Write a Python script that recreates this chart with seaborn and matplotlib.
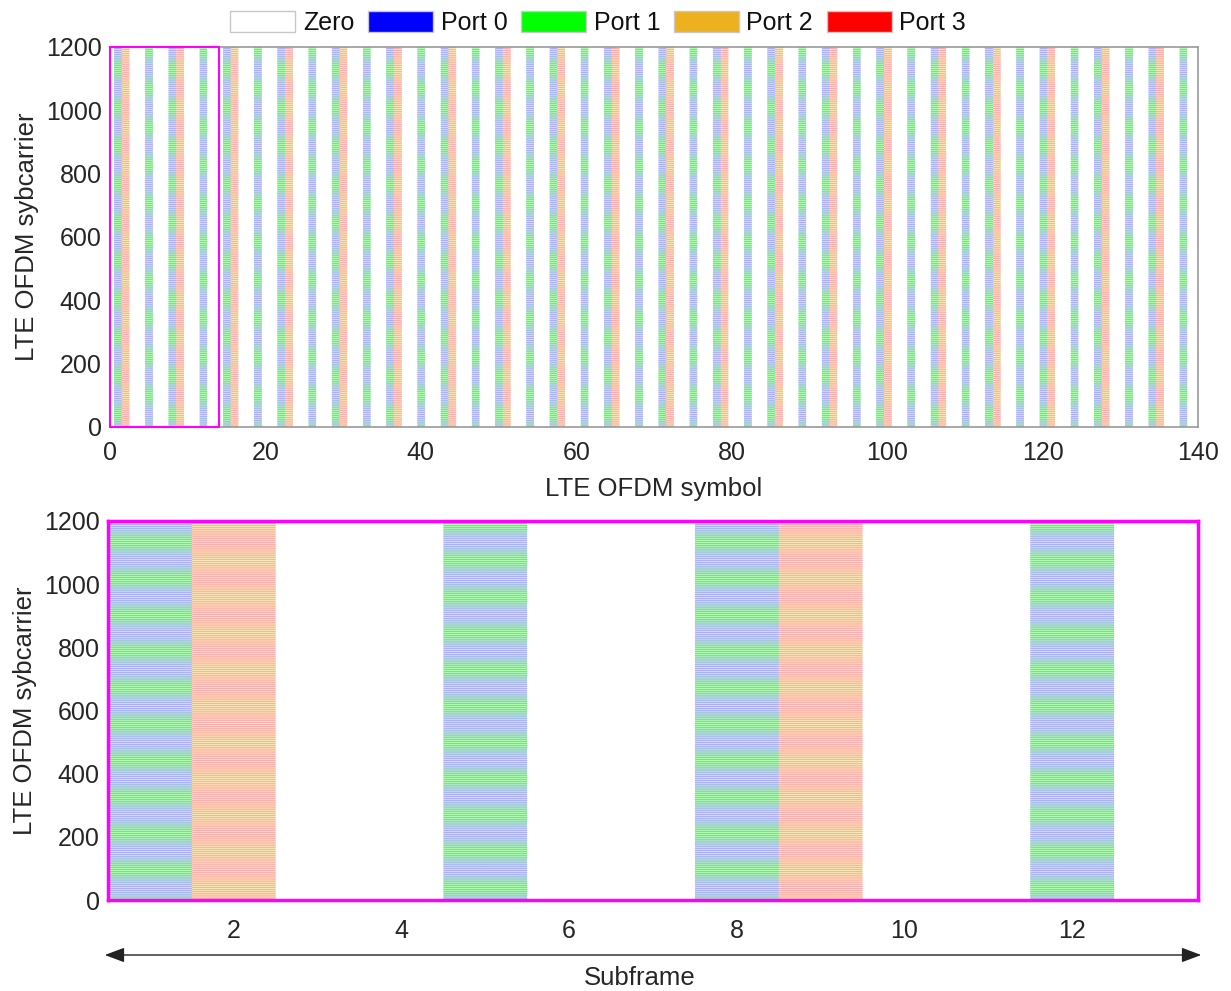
import numpy as np
import matplotlib
matplotlib.use("Agg")
import matplotlib.pyplot as plt
from matplotlib.patches import Patch, Rectangle, FancyArrowPatch
from matplotlib.colors import to_rgb
import seaborn as sns

# Resource grid dimensions (one LTE frame, 20 MHz)
n_subcarriers = 1200
n_symbols = 140
symbols_per_subframe = 14
rs_spacing = 6

# Legend categories and colours
port_names = ["Zero", "Port 0", "Port 1", "Port 2", "Port 3"]
port_colors = ["#FFFFFF", "#0000FF", "#00FF00", "#EDB120", "#FF0000"]

# Cell-specific reference signal positions inside one subframe
rs_symbol = [0, 4, 7, 11, 0, 4, 7, 11, 1, 8, 1, 8]
rs_port = [1, 1, 1, 1, 2, 2, 2, 2, 3, 3, 4, 4]
rs_offset = [0, 3, 0, 3, 3, 0, 3, 0, 0, 3, 3, 0]

# Tick labels
top_xticks = [0, 20, 40, 60, 80, 100, 120, 140]
bottom_xticks = [2, 4, 6, 8, 10, 12]
yticks = [0, 200, 400, 600, 800, 1000, 1200]

# Build the grid of port indices
grid = np.zeros((n_subcarriers, n_symbols), dtype=int)
for sf in range(n_symbols // symbols_per_subframe):
    for sym, port, off in zip(rs_symbol, rs_port, rs_offset):
        grid[off::rs_spacing, sf * symbols_per_subframe + sym] = port

palette = (np.array([to_rgb(c) for c in port_colors]) * 255).astype(np.uint8)


def as_rgb(g, hrep):
    # widen each OFDM symbol so the filter only averages along subcarriers
    return np.repeat(palette[g], hrep, axis=1)


sns.set_theme(style="white")
plt.rcParams["font.family"] = ["Liberation Sans", "DejaVu Sans"]

fig = plt.figure(figsize=(12.31, 9.91), dpi=100)
ax1 = fig.add_axes([110 / 1231, 1 - 427 / 991, 1088 / 1231, 380 / 991])
ax2 = fig.add_axes([108 / 1231, 1 - 900 / 991, 1090 / 1231, 379 / 991])

text_col = "#262626"
fs_tick = 18
fs_label = 18.5

# Full frame
ax1.imshow(as_rgb(grid, 8), origin="lower",
           extent=[0.5, n_symbols + 0.5, 0.5, n_subcarriers + 0.5],
           aspect="auto", interpolation="antialiased")
# First subframe
ax2.imshow(as_rgb(grid[:, :symbols_per_subframe], 100), origin="lower",
           extent=[0.5, symbols_per_subframe + 0.5, 0.5, n_subcarriers + 0.5],
           aspect="auto", interpolation="antialiased")

for ax in (ax1, ax2):
    ax.set_yticks(yticks)
    ax.set_ylim(0, n_subcarriers)
    ax.set_ylabel("LTE OFDM sybcarrier", fontsize=fs_label, color=text_col,
                  labelpad=5)
    ax.tick_params(axis="both", direction="in", length=4, width=0.6,
                   colors="#888888", labelcolor=text_col, labelsize=fs_tick,
                   pad=6)

ax1.set_xlim(0, n_symbols)
ax1.set_xticks(top_xticks)
ax1.tick_params(axis="x", pad=10)
ax1.set_xlabel("LTE OFDM symbol", fontsize=fs_label, color=text_col,
               labelpad=9)
for sp in ax1.spines.values():
    sp.set_color("#9a9a9a")
    sp.set_linewidth(1.2)
ax1.add_patch(Rectangle((0, 0), symbols_per_subframe, n_subcarriers,
                        fill=False, edgecolor="#FF00FF", linewidth=1.5,
                        clip_on=False, zorder=5))

ax2.set_xlim(0.5, 13.5)
ax2.set_xticks(bottom_xticks)
ax2.tick_params(axis="x", length=0, pad=14)
ax2.tick_params(axis="y", length=0)
for sp in ax2.spines.values():
    sp.set_color("#FF00FF")
    sp.set_linewidth(2.5)

# Legend
handles = [Patch(facecolor=c, edgecolor="#c8c8c8", linewidth=1.0)
           for c in port_colors]
fig.legend(handles, port_names, loc="upper center",
           bbox_to_anchor=(0.486, 1.012), ncol=5, frameon=False,
           fontsize=fs_tick, handlelength=2.6, handleheight=0.95,
           handletextpad=0.3, columnspacing=0.55, labelcolor="#111111")

# Subframe span arrow
y_arrow = 1 - 955 / 991
fig.add_artist(FancyArrowPatch(
    (102 / 1231, y_arrow), (1204 / 1231, y_arrow),
    transform=fig.transFigure,
    arrowstyle="<|-|>,head_length=12,head_width=4.5",
    color="#222222", linewidth=1.0, mutation_scale=1.0))
fig.text(640 / 1231, 1 - 978 / 991, "Subframe", ha="center", va="center",
         fontsize=fs_label, color=text_col)

fig.savefig("out.png", dpi=100, facecolor="white")
